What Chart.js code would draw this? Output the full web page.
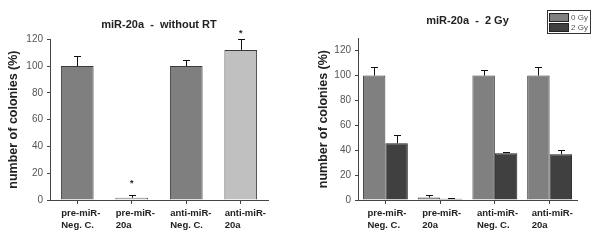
<!DOCTYPE html>
<html>
<head>
<meta charset="utf-8">
<script src="https://cdn.jsdelivr.net/npm/chart.js@4"></script>
<style>
  body { margin: 0; background: #fff; }
  .row { display: flex; width: 600px; height: 244px; }
  canvas { display: block; }
</style>
</head>
<body>
<div class="row">
  <canvas id="withoutRt" width="300" height="244"></canvas>
  <canvas id="twoGy" width="300" height="244"></canvas>
</div>
<script>
// categories shared by both panels
const categories = [
  ["pre-miR-", "Neg. C."],
  ["pre-miR-", "20a"],
  ["anti-miR-", "Neg. C."],
  ["anti-miR-", "20a"],
];

// left panel: miR-20a without RT
const noRtValues = [100, 1.7, 100, 112];
const noRtErrors = [7.5, 2, 4.5, 8];
const noRtStars = [null, 13.7, null, 125.5];

// right panel: miR-20a 2 Gy
const seriesLabels = ["0 Gy", "2 Gy"];
const gy0Values = [100, 2, 100, 100];
const gy0Errors = [7, 1.8, 4.4, 7];
const gy2Values = [45.6, 1, 37.6, 36.8];
const gy2Errors = [6.5, 0.9, 1, 3.5];

const FONT = "'Liberation Sans', Arial, sans-serif";
Chart.defaults.font.family = FONT;
Chart.defaults.animation = false;

// draws upper error bars and significance stars
const errorBars = {
  id: "errorBars",
  afterDatasetsDraw(chart) {
    const ctx = chart.ctx;
    const y = chart.scales.y;
    ctx.save();
    chart.data.datasets.forEach((ds, i) => {
      const meta = chart.getDatasetMeta(i);
      meta.data.forEach((bar, j) => {
        if (!ds.errors) return;
        const top = y.getPixelForValue(ds.data[j] + ds.errors[j]);
        ctx.strokeStyle = "#111";
        ctx.lineWidth = 1;
        ctx.beginPath();
        ctx.moveTo(Math.round(bar.x) + 0.5, bar.y);
        ctx.lineTo(Math.round(bar.x) + 0.5, Math.round(top) + 0.5);
        ctx.moveTo(Math.round(bar.x) - 3, Math.round(top) + 0.5);
        ctx.lineTo(Math.round(bar.x) + 4, Math.round(top) + 0.5);
        ctx.stroke();
        if (ds.stars && ds.stars[j] != null) {
          ctx.fillStyle = "#222";
          ctx.font = "bold 9px " + FONT;
          ctx.textAlign = "center";
          ctx.textBaseline = "middle";
          ctx.fillText("*", bar.x, y.getPixelForValue(ds.stars[j]) + 2);
        }
      });
    });
    ctx.restore();
  },
};

// small framed legend in the top right corner
const boxLegend = {
  id: "boxLegend",
  afterDraw(chart, args, opts) {
    if (!opts.show) return;
    const ctx = chart.ctx;
    ctx.save();
    ctx.fillStyle = "#fff";
    ctx.strokeStyle = "#333";
    ctx.lineWidth = 1;
    ctx.fillRect(247, 10, 43, 23);
    ctx.strokeRect(247.5, 10.5, 43, 23);
    chart.data.datasets.forEach((ds, i) => {
      const top = 13 + i * 10;
      ctx.fillStyle = ds.backgroundColor;
      ctx.fillRect(249, top, 19, 8);
      ctx.strokeStyle = "#222";
      ctx.strokeRect(249.5, top + 0.5, 19, 8);
      ctx.fillStyle = "#555";
      ctx.font = "8px " + FONT;
      ctx.textAlign = "left";
      ctx.textBaseline = "middle";
      ctx.fillText(ds.label, 271, top + 4.5);
    });
    ctx.restore();
  },
};

function makeOptions(title, yMax, yWidth, padRight, titlePad, yTitlePad, labelShift) {
  return {
    responsive: false,
    layout: { padding: { left: 0, right: padRight, top: 0, bottom: 0 } },
    plugins: {
      legend: { display: false },
      tooltip: { enabled: false },
      title: {
        display: true,
        text: title,
        fullSize: false,
        color: "#222",
        font: { size: 11, weight: "bold", lineHeight: 1.2 },
        padding: titlePad,
      },
      boxLegend: { show: false },
    },
    scales: {
      x: {
        grid: { display: true, drawOnChartArea: false, offset: false, tickLength: 4, color: "#444" },
        border: { color: "#444" },
        ticks: {
          color: "#222",
          padding: 4,
          align: "start",
          labelOffset: labelShift,
          maxRotation: 0,
          autoSkip: false,
          font: { size: 9.5, weight: "bold", lineHeight: 1.2 },
        },
        afterFit(scale) { scale.height = 44; },
      },
      y: {
        min: 0,
        max: yMax,
        grid: { display: true, drawOnChartArea: false, tickLength: 3, color: "#444" },
        border: { color: "#444" },
        ticks: {
          stepSize: 10,
          color: "#555",
          padding: 4,
          font: { size: 10 },
          callback: (v) => (v % 20 === 0 && v <= 120 ? v : ""),
        },
        title: {
          display: true,
          text: "number of colonies (%)",
          color: "#222",
          font: { size: 12.5, weight: "bold", lineHeight: 1.2 },
          padding: { top: yTitlePad, bottom: 0 },
        },
        afterFit(scale) { scale.width = yWidth; },
      },
    },
  };
}

new Chart(document.getElementById("withoutRt"), {
  type: "bar",
  data: {
    labels: categories,
    datasets: [
      {
        label: "without RT",
        data: noRtValues,
        errors: noRtErrors,
        stars: noRtStars,
        backgroundColor: ["#7f7f7f", "#c0c0c0", "#7f7f7f", "#c0c0c0"],
        borderColor: "#3a3a3a",
        borderWidth: 1,
        categoryPercentage: 0.6,
        barPercentage: 1,
      },
    ],
  },
  options: makeOptions("miR-20a  -  without RT", 120, 50, 32, { top: 18, bottom: 8 }, 6, -16),
  plugins: [errorBars, boxLegend],
});

const rightOptions = makeOptions("miR-20a  -  2 Gy", 130, 58, 23, { top: 14, bottom: 11 }, 16, -18);
rightOptions.plugins.boxLegend.show = true;

new Chart(document.getElementById("twoGy"), {
  type: "bar",
  data: {
    labels: categories,
    datasets: [
      {
        label: seriesLabels[0],
        data: gy0Values,
        errors: gy0Errors,
        backgroundColor: "#808080",
        borderColor: "#3a3a3a",
        borderWidth: 1,
        categoryPercentage: 0.82,
        barPercentage: 1,
      },
      {
        label: seriesLabels[1],
        data: gy2Values,
        errors: gy2Errors,
        backgroundColor: "#404040",
        borderColor: "#222",
        borderWidth: 1,
        categoryPercentage: 0.82,
        barPercentage: 1,
      },
    ],
  },
  options: rightOptions,
  plugins: [errorBars, boxLegend],
});
</script>
</body>
</html>
